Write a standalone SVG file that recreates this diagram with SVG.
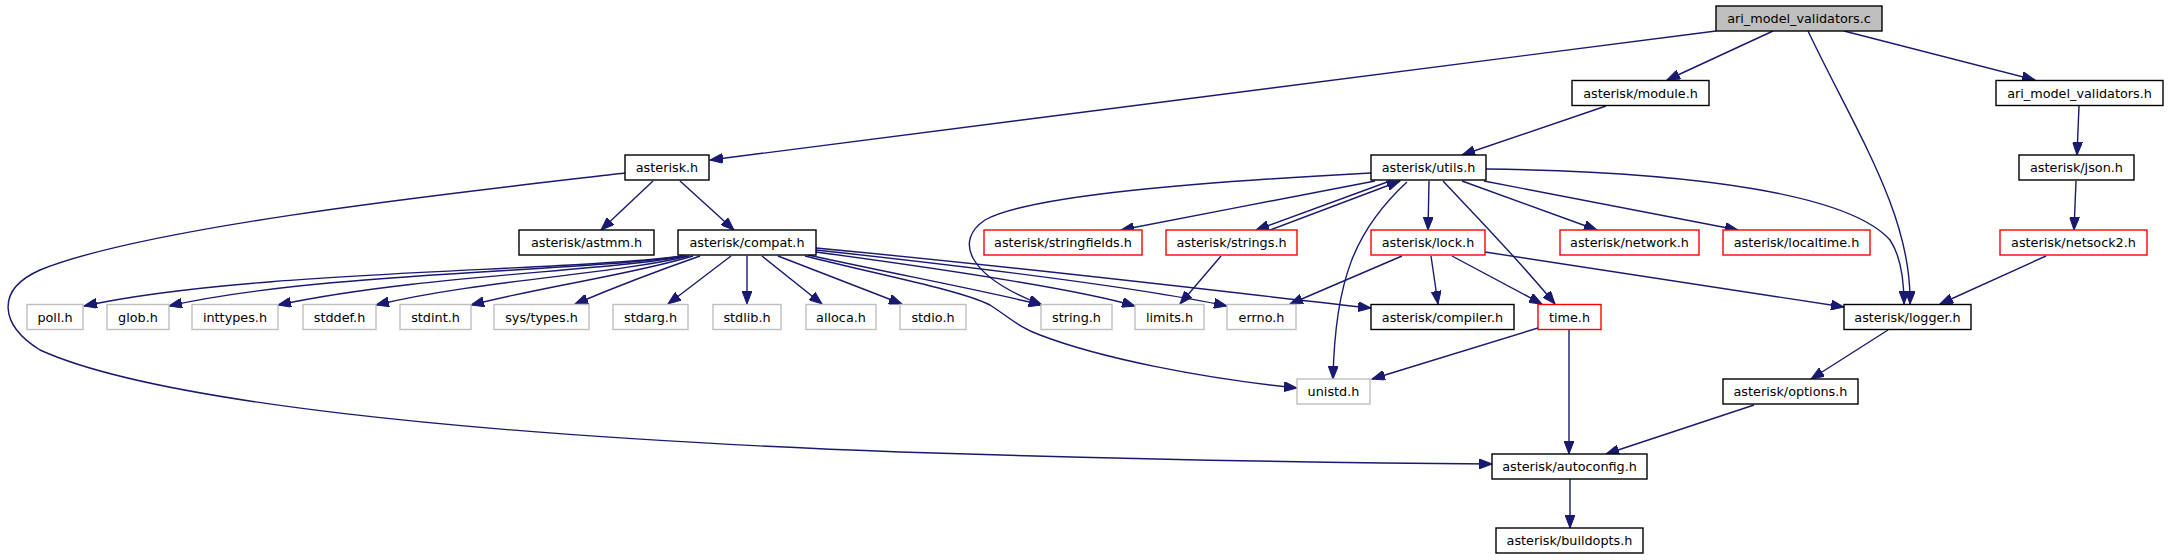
<svg xmlns="http://www.w3.org/2000/svg" width="2168" height="560" viewBox="0 0 2168 560">
<style>
.n rect{fill:#fff;stroke:#000;stroke-width:1.4}
.n.g rect{stroke:#bfbfbf}
.n.r rect{stroke:#ff0000}
.n.root rect{fill:#bfbfbf}
.n text{font-family:"DejaVu Sans",sans-serif;font-size:12.8px;fill:#000;text-anchor:middle}
.e path{fill:none;stroke:#191970;stroke-width:1.4;marker-end:url(#ah)}
</style>
<defs>
<marker id="ah" markerUnits="userSpaceOnUse" markerWidth="14" markerHeight="10" refX="13" refY="5" orient="auto" viewBox="0 0 14 10">
<path d="M0,0 L13,5 L0,10 z" fill="#191970" stroke="#191970" stroke-width="1"/>
</marker>
</defs>
<rect width="2168" height="560" fill="#fff"/>
<g id="edges" class="e">
<path d="M1716,31 L710,160"/>
<path d="M1773,31 L1667,80"/>
<path d="M1808,31 C1855,130 1912,215 1910,304"/>
<path d="M1844,31 L2035,80"/>
<path d="M1606,106 L1462,155"/>
<path d="M2079,106 L2077,155"/>
<path d="M2076,181 L2074,230"/>
<path d="M2046,256 L1940,304"/>
<path d="M653,181 L601,230"/>
<path d="M680,181 L734,230"/>
<path d="M625,173 C480,190 150,225 40,270 C-5,290 0,325 40,350 C150,400 450,435 900,452 C1150,460 1350,463 1492,464"/>
<path d="M682,256 C560,272 250,270 84,306"/>
<path d="M684,256 C580,272 320,272 169,306"/>
<path d="M686,256 C600,272 420,275 278,305"/>
<path d="M689,256 C610,275 480,280 376,305"/>
<path d="M693,256 C630,275 550,285 471,305"/>
<path d="M700,256 C660,270 620,285 575,304"/>
<path d="M731,256 L668,304"/>
<path d="M747,256 L747,304"/>
<path d="M762,256 L822,304"/>
<path d="M778,256 L902,304"/>
<path d="M808,255 C900,275 990,292 1042,305"/>
<path d="M805,256 C880,275 960,290 990,305 C1010,318 1020,328 1040,335 C1100,358 1200,378 1297,388"/>
<path d="M816,252 C950,270 1080,290 1135,306"/>
<path d="M816,250 C1000,270 1150,290 1227,306"/>
<path d="M816,248 C1050,270 1250,295 1371,308"/>
<path d="M1371,173 C1200,182 1030,195 985,220 C955,240 965,275 1042,305"/>
<path d="M1375,181 C1300,195 1200,215 1121,230"/>
<path d="M1390,181 L1256,230"/>
<path d="M1270,230 L1400,181"/>
<path d="M1407,182 C1355,230 1335,280 1333,379"/>
<path d="M1429,181 L1428,230"/>
<path d="M1443,181 C1470,210 1510,250 1555,304"/>
<path d="M1462,181 L1597,230"/>
<path d="M1484,181 L1738,230"/>
<path d="M1486,169 C1700,172 1850,195 1890,240 C1900,255 1904,280 1904,304"/>
<path d="M1402,256 L1290,304"/>
<path d="M1431,256 L1438,304"/>
<path d="M1452,256 L1542,304"/>
<path d="M1485,252 L1844,307"/>
<path d="M1221,256 L1180,304"/>
<path d="M1538,328 L1372,379"/>
<path d="M1569,330 L1569,454"/>
<path d="M1888,330 L1811,379"/>
<path d="M1754,405 L1606,454"/>
<path d="M1570,479 L1570,528"/>
</g>
<g id="n_c" class="n root"><rect x="1716" y="6" width="166" height="25"/><text x="1799" y="23">ari_model_validators.c</text></g>
<g id="n_module" class="n"><rect x="1572" y="80.5" width="137" height="25"/><text x="1640.5" y="97.5">asterisk/module.h</text></g>
<g id="n_amvh" class="n"><rect x="1996" y="80.5" width="167" height="25"/><text x="2079.5" y="97.5">ari_model_validators.h</text></g>
<g id="n_asterisk" class="n"><rect x="625" y="155" width="84" height="25"/><text x="667" y="172">asterisk.h</text></g>
<g id="n_utils" class="n"><rect x="1371" y="155" width="115" height="25"/><text x="1428.5" y="172">asterisk/utils.h</text></g>
<g id="n_json" class="n"><rect x="2019" y="155" width="115" height="25"/><text x="2076.5" y="172">asterisk/json.h</text></g>
<g id="n_astmm" class="n"><rect x="519" y="230" width="135" height="25"/><text x="586.5" y="247">asterisk/astmm.h</text></g>
<g id="n_compat" class="n"><rect x="678" y="230" width="138" height="25"/><text x="747" y="247">asterisk/compat.h</text></g>
<g id="n_stringfields" class="n r"><rect x="984" y="230" width="158" height="25"/><text x="1063" y="247">asterisk/stringfields.h</text></g>
<g id="n_strings" class="n r"><rect x="1166" y="230" width="131" height="25"/><text x="1231.5" y="247">asterisk/strings.h</text></g>
<g id="n_lock" class="n r"><rect x="1371" y="230" width="114" height="25"/><text x="1428" y="247">asterisk/lock.h</text></g>
<g id="n_network" class="n r"><rect x="1560" y="230" width="139" height="25"/><text x="1629.5" y="247">asterisk/network.h</text></g>
<g id="n_localtime" class="n r"><rect x="1723" y="230" width="147" height="25"/><text x="1796.5" y="247">asterisk/localtime.h</text></g>
<g id="n_netsock2" class="n r"><rect x="2000" y="230" width="147" height="25"/><text x="2073.5" y="247">asterisk/netsock2.h</text></g>
<g id="n_poll" class="n g"><rect x="27" y="304.5" width="56" height="25"/><text x="55" y="321.5">poll.h</text></g>
<g id="n_glob" class="n g"><rect x="107" y="304.5" width="62" height="25"/><text x="138" y="321.5">glob.h</text></g>
<g id="n_inttypes" class="n g"><rect x="192" y="304.5" width="86" height="25"/><text x="235" y="321.5">inttypes.h</text></g>
<g id="n_stddef" class="n g"><rect x="303" y="304.5" width="73" height="25"/><text x="339.5" y="321.5">stddef.h</text></g>
<g id="n_stdint" class="n g"><rect x="400" y="304.5" width="71" height="25"/><text x="435.5" y="321.5">stdint.h</text></g>
<g id="n_systypes" class="n g"><rect x="494" y="304.5" width="95" height="25"/><text x="541.5" y="321.5">sys/types.h</text></g>
<g id="n_stdarg" class="n g"><rect x="613" y="304.5" width="75" height="25"/><text x="650.5" y="321.5">stdarg.h</text></g>
<g id="n_stdlib" class="n g"><rect x="713" y="304.5" width="68" height="25"/><text x="747" y="321.5">stdlib.h</text></g>
<g id="n_alloca" class="n g"><rect x="806" y="304.5" width="70" height="25"/><text x="841" y="321.5">alloca.h</text></g>
<g id="n_stdio" class="n g"><rect x="900" y="304.5" width="66" height="25"/><text x="933" y="321.5">stdio.h</text></g>
<g id="n_string" class="n g"><rect x="1041" y="304.5" width="71" height="25"/><text x="1076.5" y="321.5">string.h</text></g>
<g id="n_limits" class="n g"><rect x="1135" y="304.5" width="69" height="25"/><text x="1169.5" y="321.5">limits.h</text></g>
<g id="n_errno" class="n g"><rect x="1227" y="304.5" width="69" height="25"/><text x="1261.5" y="321.5">errno.h</text></g>
<g id="n_compiler" class="n"><rect x="1371" y="304.5" width="143" height="25"/><text x="1442.5" y="321.5">asterisk/compiler.h</text></g>
<g id="n_time" class="n r"><rect x="1538" y="304.5" width="63" height="25"/><text x="1569.5" y="321.5">time.h</text></g>
<g id="n_logger" class="n"><rect x="1844" y="304.5" width="127" height="25"/><text x="1907.5" y="321.5">asterisk/logger.h</text></g>
<g id="n_unistd" class="n g"><rect x="1297" y="379" width="73" height="25"/><text x="1333.5" y="396">unistd.h</text></g>
<g id="n_options" class="n"><rect x="1723" y="379" width="135" height="25"/><text x="1790.5" y="396">asterisk/options.h</text></g>
<g id="n_autoconfig" class="n"><rect x="1492" y="454" width="155" height="25"/><text x="1569.5" y="471">asterisk/autoconfig.h</text></g>
<g id="n_buildopts" class="n"><rect x="1496" y="528" width="147" height="25"/><text x="1569.5" y="545">asterisk/buildopts.h</text></g>
</svg>
